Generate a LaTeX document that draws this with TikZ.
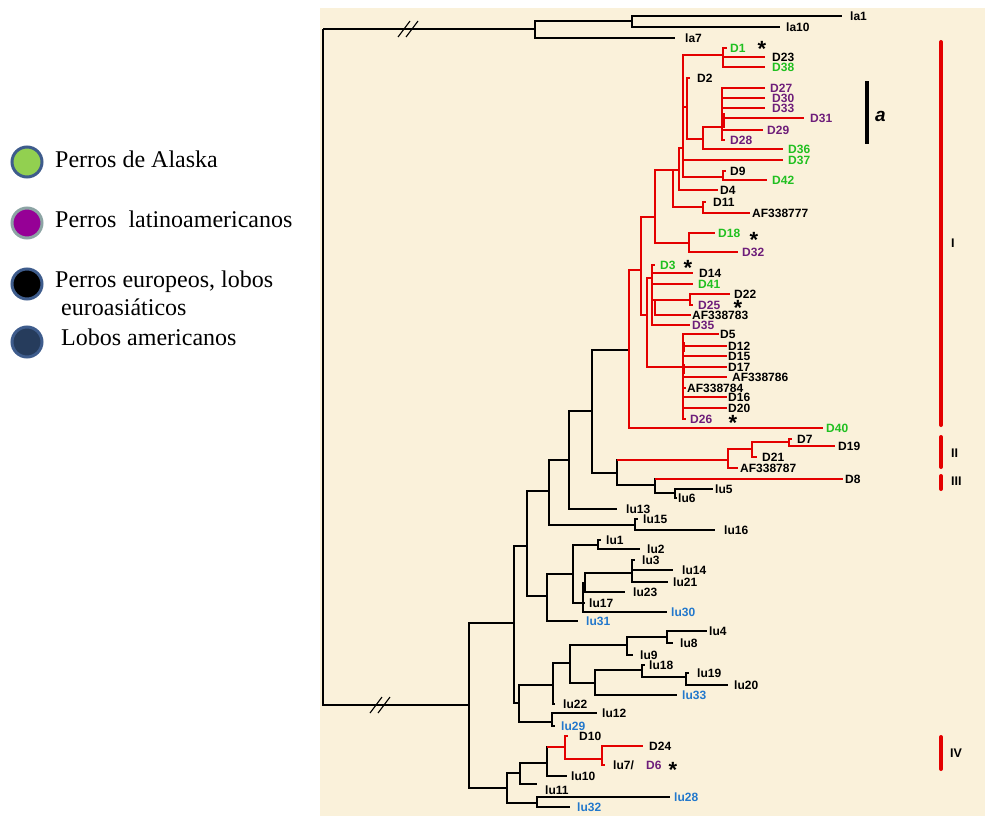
\documentclass[tikz,border=0pt]{standalone}
\usepackage{fontspec}
\usepackage{tikz}
\setmainfont{Liberation Serif}
\newfontfamily\arialf{Liberation Sans}
\definecolor{treered}{RGB}{228,0,0}
\definecolor{parch}{RGB}{250,241,218}
\definecolor{alaska}{RGB}{32,192,32}
\definecolor{latino}{RGB}{110,30,122}
\definecolor{lobo}{RGB}{34,120,204}
\definecolor{dotgreen}{RGB}{146,208,80}
\definecolor{dotpurple}{RGB}{150,0,150}
\definecolor{dotnavy}{RGB}{38,60,92}
\definecolor{ringblue}{RGB}{62,92,140}
\definecolor{ringgray}{RGB}{140,164,164}
\newcommand{\lblf}{\arialf\bfseries\fontsize{12}{14}\selectfont}
\newcommand{\legf}{\fontsize{24}{27}\selectfont}
\tikzset{
  bk/.style={line width=1.4pt, draw=black},
  rd/.style={line width=1.4pt, draw=treered},
  lf/.style={anchor=west, inner xsep=#1, inner ysep=1pt, font=\lblf},
  lf/.default=3pt,
  grn/.style={text=alaska},
  pur/.style={text=latino},
  blu/.style={text=lobo},
  astk/.style={anchor=north, inner sep=0pt, font=\arialf\bfseries\fontsize{22}{22}\selectfont},
  clado/.style={anchor=west, inner sep=0pt, font=\arialf\bfseries\fontsize{12.5}{14}\selectfont},
  cbar/.style={line width=4pt, draw=treered, line cap=round},
  keydot/.style={circle, minimum size=30pt, line width=3pt, inner sep=0pt},
  leg/.style={anchor=base west, inner sep=0pt, font=\legf}
}

\begin{document}
\begin{tikzpicture}[x=1pt,y=-1pt]
\useasboundingbox (0,0) rectangle (985,816);
\fill[parch] (320,8) rectangle (985,816);

% legend
\node[keydot, fill=dotgreen, draw=ringblue] (kA) at (27,162) {};
\node[keydot, fill=dotpurple, draw=ringgray] (kB) at (27,223) {};
\node[keydot, fill=black, draw=ringblue] (kC) at (27,284) {};
\node[keydot, fill=dotnavy, draw=ringblue] (kD) at (27,342) {};
\node[leg] (tA) at (55,167) {Perros de Alaska};
\node[leg] (tB) at (55,227) {Perros~~latinoamericanos};
\node[leg] (tC) at (55,287) {Perros europeos, lobos};
\node[leg] (tC2) at (61,315) {euroasiáticos};
\node[leg] (tD) at (61,345) {Lobos americanos};

% outgroup (la)
\coordinate (R) at (323,29);
\coordinate (Ola) at (535,29);
\coordinate (lan) at (632,21);
\node[lf=8pt] (la1) at (842,16) {la1};
\node[lf=6pt] (la10) at (780,27) {la10};
\node[lf=10pt] (la7) at (675,38) {la7};
\coordinate (A) at (469,705);
\draw[bk] (R) |- (Ola) (R) |- (A);
\draw[bk] (Ola) |- (lan) (Ola) |- (la7);
\draw[bk] (lan) |- (la1) (lan) |- (la10);
\draw[bk, line width=1.1pt] (398,37) -- (410,21) (406,37) -- (418,21);
\draw[bk, line width=1.1pt] (370,713) -- (382,697) (378,713) -- (390,697);

% inner nodes
\coordinate (B) at (514,623);
\coordinate (C) at (527,546);
\coordinate (D) at (549,491);
\coordinate (E) at (569,460);
\coordinate (F) at (592,411);
\coordinate (G) at (617,473);
\coordinate (H) at (728,460);
\coordinate (J) at (752,449);
\coordinate (K) at (789,442);
\coordinate (I) at (655,485);
\coordinate (L) at (675,493);
\coordinate (M) at (635,525);
\coordinate (N) at (547,596);
\coordinate (O) at (573,574);
\coordinate (P) at (598,545);
\coordinate (Q) at (583,603);
\coordinate (S) at (585,583);
\coordinate (T) at (632,573);
\coordinate (U) at (519,703);
\coordinate (V) at (553,685);
\coordinate (W) at (570,663);
\coordinate (X) at (627,645);
\coordinate (Y) at (667,637);
\coordinate (Z) at (595,683);
\coordinate (AA) at (642,670);
\coordinate (AB) at (686,677);
\coordinate (AC) at (552,722);
\coordinate (AD) at (507,788);
\coordinate (AE) at (520,773);
\coordinate (AF) at (547,763);
\coordinate (AG) at (565,747);
\coordinate (AH) at (602,759);
\coordinate (AI) at (537,803);
% clade I
\coordinate (RI) at (629,350);
\coordinate (RA) at (641,270);
\coordinate (RB) at (655,217);
\coordinate (RC) at (673,170);
\coordinate (RD) at (679,170);
\coordinate (RF) at (683,148);
\coordinate (D1n) at (723,55);
\coordinate (D2n) at (687,107);
\coordinate (RG) at (703,139);
\coordinate (RH) at (722,127);
\coordinate (D9n) at (723,177);
\coordinate (D11n) at (703,207);
\coordinate (RE) at (689,243);
\coordinate (RJ) at (647,315);
\coordinate (RK) at (652,278);
\coordinate (RM) at (655,300);
\coordinate (RN) at (690,300);
\coordinate (RL) at (683,367);

% leaves, clade I
\node[lf, grn] (D1) at (727,48) {D1};
\node[lf=7pt] (D23) at (765,57) {D23};
\node[lf=7pt, grn] (D38) at (765,67) {D38};
\node[lf=7pt] (D2) at (690,78) {D2};
\node[lf=5pt, pur] (D27) at (765,88) {D27};
\node[lf=7pt, pur] (D30) at (765,98) {D30};
\node[lf=7pt, pur] (D33) at (765,108) {D33};
\node[lf=6pt, pur] (D31) at (804,118) {D31};
\node[lf=4pt, pur] (D29) at (763,130) {D29};
\node[lf=5pt, pur] (D28) at (725,140) {D28};
\node[lf=5pt, grn] (D36) at (783,149) {D36};
\node[lf=5pt, grn] (D37) at (783,160) {D37};
\node[lf=4pt] (D9) at (726,171) {D9};
\node[lf=5pt, grn] (D42) at (767,180) {D42};
\node[lf=2pt] (D4) at (718,190) {D4};
\node[lf=7pt] (D11) at (706,202) {D11};
\node[lf=2pt] (af77) at (750,213) {AF338777};
\node[lf, grn] (D18) at (715,233) {D18};
\node[lf=4pt, pur] (D32) at (738,252) {D32};
\node[lf=5pt, grn] (D3) at (655,265) {D3};
\node[lf=6pt] (D14) at (693,273) {D14};
\node[lf=5pt, grn] (D41) at (693,284) {D41};
\node[lf=4pt] (D22) at (730,294) {D22};
\node[lf=5pt, pur] (D25) at (693,305) {D25};
\node[lf=1pt] (af83) at (691,315) {AF338783};
\node[lf=2pt, pur] (D35) at (690,325) {D35};
\node[lf=1pt] (D5) at (719,334) {D5};
\node[lf=1pt] (D12) at (727,346) {D12};
\node[lf=1pt] (D15) at (727,356) {D15};
\node[lf=1pt] (D17) at (727,367) {D17};
\node[lf=5pt] (af86) at (727,377) {AF338786};
\node[lf=1pt] (af84) at (686,388) {AF338784};
\node[lf=1pt] (D16) at (727,397) {D16};
\node[lf=1pt] (D20) at (727,408) {D20};
\node[lf=4pt, pur] (D26) at (686,419) {D26};
\node[lf, grn] (D40) at (823,428) {D40};
% clades II, III and wolves
\node[lf=5pt] (D7) at (792,439) {D7};
\node[lf] (D19) at (835,446) {D19};
\node[lf=5pt] (D21) at (757,457) {D21};
\node[lf=2pt] (af87) at (738,468) {AF338787};
\node[lf=2pt] (D8) at (843,479) {D8};
\node[lf=2pt] (lu5) at (713,489) {lu5};
\node[lf=1pt] (lu6) at (677,498) {lu6};
\node[lf=9pt] (lu13) at (617,509) {lu13};
\node[lf=5pt] (lu15) at (638,519) {lu15};
\node[lf=9pt] (lu16) at (715,530) {lu16};
\node[lf=5pt] (lu1) at (601,540) {lu1};
\node[lf=7pt] (lu2) at (640,549) {lu2};
\node[lf=7pt] (lu3) at (635,560) {lu3};
\node[lf=9pt] (lu14) at (673,570) {lu14};
\node[lf=5pt] (lu21) at (668,582) {lu21};
\node[lf=8pt] (lu23) at (625,592) {lu23};
\node[lf=4pt] (lu17) at (585,603) {lu17};
\node[lf=4pt, blu] (lu30) at (667,612) {lu30};
\node[lf=8pt, blu] (lu31) at (578,621) {lu31};
\node[lf=2pt] (lu4) at (707,631) {lu4};
\node[lf=7pt] (lu8) at (673,643) {lu8};
\node[lf=7pt] (lu9) at (633,655) {lu9};
\node[lf=4pt] (lu18) at (645,665) {lu18};
\node[lf=8pt] (lu19) at (689,673) {lu19};
\node[lf=6pt] (lu20) at (728,685) {lu20};
\node[lf=5pt, blu] (lu33) at (677,695) {lu33};
\node[lf=8pt] (lu22) at (555,704) {lu22};
\node[lf=5pt] (lu12) at (597,713) {lu12};
\node[lf=6pt, blu] (lu29) at (555,726) {lu29};
\node[lf=11pt] (D10) at (568,736) {D10};
\node[lf=6pt] (D24) at (643,746) {D24};
\node[lf=8pt] (lu7) at (605,765) {lu7/};
\node[lf=0pt, inner xsep=0pt, pur] (D6) at (646,765) {D6};
\node[lf=4pt] (lu10) at (567,776) {lu10};
\node[lf=8pt] (lu11) at (537,790) {lu11};
\node[lf=4pt, blu] (lu28) at (670,797) {lu28};
\node[lf=7pt, blu] (lu32) at (570,807) {lu32};

% stars
\node[astk] (sD1) at (762,41) {*};
\node[astk] (sD18) at (754,232) {*};
\node[astk] (sD3) at (688,260) {*};
\node[astk] (sD25) at (738,300) {*};
\node[astk] (sD26) at (733,415) {*};
\node[astk] (sD6) at (673,762) {*};

% branches
\draw[bk] (A) |- (B) (A) |- (AD);
\draw[bk] (B) |- (C) (B) |- (U);
\draw[bk] (C) |- (D) (C) |- (N);
\draw[bk] (D) |- (E) (D) |- (M);
\draw[bk] (E) |- (F) (E) |- (lu13);
\draw[bk] (F) |- (RI) (F) |- (G);
\draw[bk] (G) |- (H) (G) |- (I);
\draw[rd] (G |- H) -- (H);
\draw[rd] (H) |- (J) (H) |- (af87);
\draw[rd] (J) |- (K) (J) |- (D21);
\draw[rd] (K) |- (D7) (K) |- (D19);
\draw[bk] (I) |- (L) (I) |- (D8);
\draw[rd] (I |- D8) -- (D8);
\draw[bk] (L) |- (lu5) (L) |- (lu6);
\draw[bk] (M) |- (lu15) (M) |- (lu16);
\draw[bk] (N) |- (O) (N) |- (lu31);
\draw[bk] (O) |- (P) (O) |- (Q);
\draw[bk] (P) |- (lu1) (P) |- (lu2);
\draw[bk] (Q) |- (S) (Q) |- (lu17) (Q) |- (lu30);
\draw[bk] (S) |- (T) (S) |- (lu23);
\draw[bk] (T) |- (lu3) (T) |- (lu14) (T) |- (lu21);
\draw[bk] (U) |- (V) (U) |- (AC);
\draw[bk] (V) |- (W) (V) |- (lu22);
\draw[bk] (W) |- (X) (W) |- (Z);
\draw[bk] (X) |- (Y) (X) |- (lu9);
\draw[bk] (Y) |- (lu4) (Y) |- (lu8);
\draw[bk] (Z) |- (AA) (Z) |- (lu33);
\draw[bk] (AA) |- (lu18) (AA) |- (AB);
\draw[bk] (AB) |- (lu19) (AB) |- (lu20);
\draw[bk] (AC) |- (lu12) (AC) |- (lu29);
\draw[bk] (AD) |- (AE) (AD) |- (AI);
\draw[bk] (AE) |- (AF) (AE) |- ([yshift=6pt]lu11.west);
\draw[bk] (AF) |- (AG) (AF) |- (lu10);
\draw[rd] (AF |- AG) -- (AG);
\draw[rd] (AG) |- (D10) (AG) |- (AH);
\draw[rd] (AH) |- (D24) (AH) |- (lu7);
\draw[bk] (AI) |- (lu28) (AI) |- (lu32);
% clade I branches
\draw[rd] (RI) |- (RA) (RI) |- (D40);
\draw[rd] (RA) |- (RB) (RA) |- (RJ);
\draw[rd] (RB) |- (RC) (RB) |- (RE);
\draw[rd] (RC) |- (RD) (RC) |- (D11n);
\draw[rd] (RD) |- (RF) (RD) |- (D4);
\draw[rd] (RF) |- (D1n) (RF) |- (D2n) (RF) |- (D37) (RF) |- (D9n);
\draw[rd] (D1n) |- (D1) (D1n) |- (D23) (D1n) |- (D38);
\draw[rd] (D2n) |- (D2) (D2n) |- (RG);
\draw[rd] (RG) |- (RH) (RG) |- (D36);
\draw[rd] (RH) |- (D27) (RH) |- (D30) (RH) |- (D33) (RH) |- (D31) (RH) |- (D29) (RH) |- (D28);
\draw[rd] (D9n) |- (D9) (D9n) |- (D42);
\draw[rd] (D11n) |- (D11) (D11n) |- (af77);
\draw[rd] (RE) |- (D18) (RE) |- (D32);
\draw[rd] (RJ) |- (RK) (RJ) |- (RL);
\draw[rd] (RK) |- (D3) (RK) |- (D14) (RK) |- (D41) (RK) |- (RM) (RK) |- (D35);
\draw[rd] (RM) |- (RN) (RM) |- (af83);
\draw[rd] (RN) |- (D22) (RN) |- (D25);
\draw[rd] (RL) |- (D5) (RL) |- (D12) (RL) |- (D15) (RL) |- (D17) (RL) |- (af86);
\draw[rd] (RL) |- (af84) (RL) |- (D16) (RL) |- (D20) (RL) |- (D26);
\draw[rd, line width=2.6pt] (723.5,113) -- (723.5,128) (684,342) -- (684,352) (684,364) -- (684,374);

% clade bars
\draw[line width=4pt] (867,81) -- (867,144);
\node[anchor=west, inner sep=0pt, font=\arialf\bfseries\itshape\fontsize{19}{19}\selectfont] (ca) at (875,116) {a};
\draw[cbar] (941,42) -- (941,425);
\draw[cbar] (941,437) -- (941,467);
\draw[cbar] (941,476) -- (941,489);
\draw[cbar] (941,737) -- (941,769);
\node[clado] (cI) at (951,243) {I};
\node[clado] (cII) at (951,453) {II};
\node[clado] (cIII) at (951,481) {III};
\node[clado] (cIV) at (950,753) {IV};
\end{tikzpicture}
\end{document}
